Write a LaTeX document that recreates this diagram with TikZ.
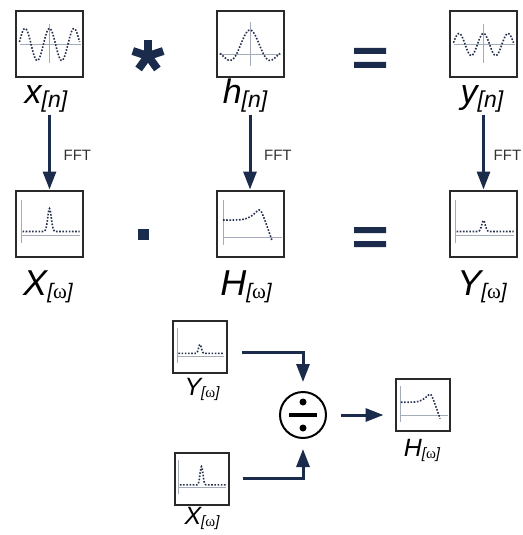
\documentclass[tikz,border=0pt]{standalone}
\usepackage{fontspec}
\setmainfont{Liberation Sans}
\newfontfamily\omegafont{Liberation Serif}
\usetikzlibrary{arrows.meta,positioning,calc}

\definecolor{navy}{HTML}{1B2B4B}
\definecolor{frame}{HTML}{2A2A2A}
\definecolor{axisgray}{HTML}{A4ACBA}
\definecolor{dotblue}{HTML}{25314D}

% signal name with bracketed index
\newcommand{\sig}[2]{#1\raisebox{-0.1em}{\fontsize{\subsz}{\subsz}\selectfont[#2]}}
\newcommand{\om}{{\omegafont\upshape ω}}

\tikzset{
  sigbox/.style={draw=frame, line width=1pt, minimum width=33.5pt, minimum height=33pt, inner sep=0pt},
  smallbox/.style={sigbox, minimum width=27pt, minimum height=26pt},
  axisline/.style={axisgray, line width=0.5pt},
  curve/.style={dotblue, line width=0.8pt, dash pattern=on 0.8pt off 0.8pt},
  toplab/.style={anchor=base, inner sep=0pt, font=\fontsize{17}{17}\selectfont\itshape\def\subsz{11.5}},
  midlab/.style={anchor=base, inner sep=0pt, font=\fontsize{18}{18}\selectfont\itshape\def\subsz{10.5}},
  botlab/.style={anchor=base, inner sep=0pt, font=\fontsize{12.5}{12.5}\selectfont\itshape\def\subsz{7.5}},
  flow/.style={navy, line width=1.5pt, -{Triangle[length=9pt,width=6.5pt]}},
  fft/.style={font=\fontsize{7.5}{7.5}\selectfont, text=black!80},
  pics/sineplot/.style={code={
    \draw[axisline] (-30,0) -- (31,0) (0,-20) -- (0,19);
    \draw[curve] plot[domain=-30:30,samples=90,smooth] (\x,{-#1*cos(360*\x/24.5)});
  }},
  pics/bellplot/.style={code={
    \draw[axisline] (-31,10.5) -- (31,10.5) (0,-22) -- (0,22);
    \draw[curve] plot[domain=-30:30,samples=60,smooth] (\x,{10.5-25*sin(deg(0.2244*\x))/(0.2244*\x)});
  }},
  pics/peakplot/.style={code={
    \draw[axisline] (-28.5,11.5) -- (30.5,11.5) (-28.5,-23.5) -- (-28.5,19.5);
    \draw[curve] plot[domain=-27:30,samples=115,smooth] (\x,{8-#1*exp(-(\x)*(\x)/6.25)});
  }},
  pics/lowpassplot/.style={code={
    \draw[axisline] (-27,13.5) -- (32,13.5) (-27,-23.5) -- (-27,21.5);
    \draw[curve] plot[smooth,tension=0.6] coordinates {(-27,-3.5) (-15,-3.5) (-5,-4.5) (3,-8.5) (9,-13.5) (13,-8) (22,17)};
  }}
}

\begin{document}
\begin{tikzpicture}[x=0.5pt,y=-0.5pt]
  \useasboundingbox (0,0) rectangle (523,535);

  % time domain row
  \node[sigbox] (xn) at (49.5,44.5) {};
  \node[sigbox] (hn) at (250,44.5) {};
  \node[sigbox] (yn) at (483.5,44.5) {};
  \pic at (xn.center) {sineplot=16};
  \pic at (hn.center) {bellplot};
  \pic at (yn.center) {sineplot=11};
  \node[toplab] (xlab) at (46,104) {\sig{x}{n}};
  \node[toplab] (hlab) at (245,104) {\sig{h}{n}};
  \node[toplab] (ylab) at (482,104) {\sig{y}{n}};

  % convolution star and equals
  \foreach \a in {270,342,54,126,198}
    \draw[navy,line width=4pt] (148,56) -- ++(\a:16);
  \fill[navy] (354,48) rectangle (386,54) (354,62) rectangle (386,68);

  % frequency domain row
  \node[sigbox] (Xw) at (49.5,223.5) {};
  \node[sigbox] (Hw) at (250,223.5) {};
  \node[sigbox] (Yw) at (483.5,223.5) {};
  \pic at (Xw.center) {peakplot=23};
  \pic at (Hw.center) {lowpassplot};
  \pic at (Yw.center) {peakplot=11};
  \node[midlab] (Xlab) at (48,295) {\sig{X}{\om}};
  \node[midlab] (Hlab) at (246,295) {\sig{H}{\om}};
  \node[midlab] (Ylab) at (482,295) {\sig{Y}{\om}};

  \fill[navy] (138,229) rectangle (149,240);
  \fill[navy] (354,227) rectangle (386,233) (354,241) rectangle (386,247);

  % FFT arrows
  \draw[flow,shorten <=1pt] (xlab.south -| Xw.north) -- (Xw.north)
    node[fft,midway,right=3pt,yshift=-2pt] {FFT};
  \draw[flow,shorten <=1pt] (hlab.south -| Hw.north) -- (Hw.north)
    node[fft,midway,right=3pt,yshift=-2pt] {FFT};
  \draw[flow,shorten <=1pt] (ylab.south -| Yw.north) -- (Yw.north)
    node[fft,midway,right=1pt,yshift=-2pt] {FFT};

  % deconvolution
  \node[smallbox] (Yw2) at (200,347) {};
  \node[smallbox] (Xw2) at (201.5,478.5) {};
  \node[smallbox] (Hw2) at (422.5,405) {};
  \pic[scale=0.8] at (Yw2.center) {peakplot=11};
  \pic[scale=0.8] at (Xw2.center) {peakplot=23};
  \pic[scale=0.8] at (Hw2.center) {lowpassplot};
  \node[botlab] (Ylab2) at (202,395) {\sig{Y}{\om}};
  \node[botlab] (Xlab2) at (202,524) {\sig{X}{\om}};
  \node[botlab] (Hlab2) at (422,456) {\sig{H}{\om}};

  \node[draw=black,circle,line width=1pt,minimum size=23pt,inner sep=0pt] (div) at (303,415) {};
  \fill[black] (289,413) rectangle (317,417);
  \fill[black] (303,402) circle (1.75pt) (303,428) circle (1.75pt);

  \draw[flow,shorten >=4.5pt] ($(Yw2.east)+(14,5)$) -| (div.north);
  \draw[flow,shorten >=5pt] ($(Xw2.east)+(13,0)$) -| (div.south);
  \draw[flow,shorten <=7pt,shorten >=5.5pt] (div.east) -- (div.east -| Hw2.west);
\end{tikzpicture}
\end{document}
